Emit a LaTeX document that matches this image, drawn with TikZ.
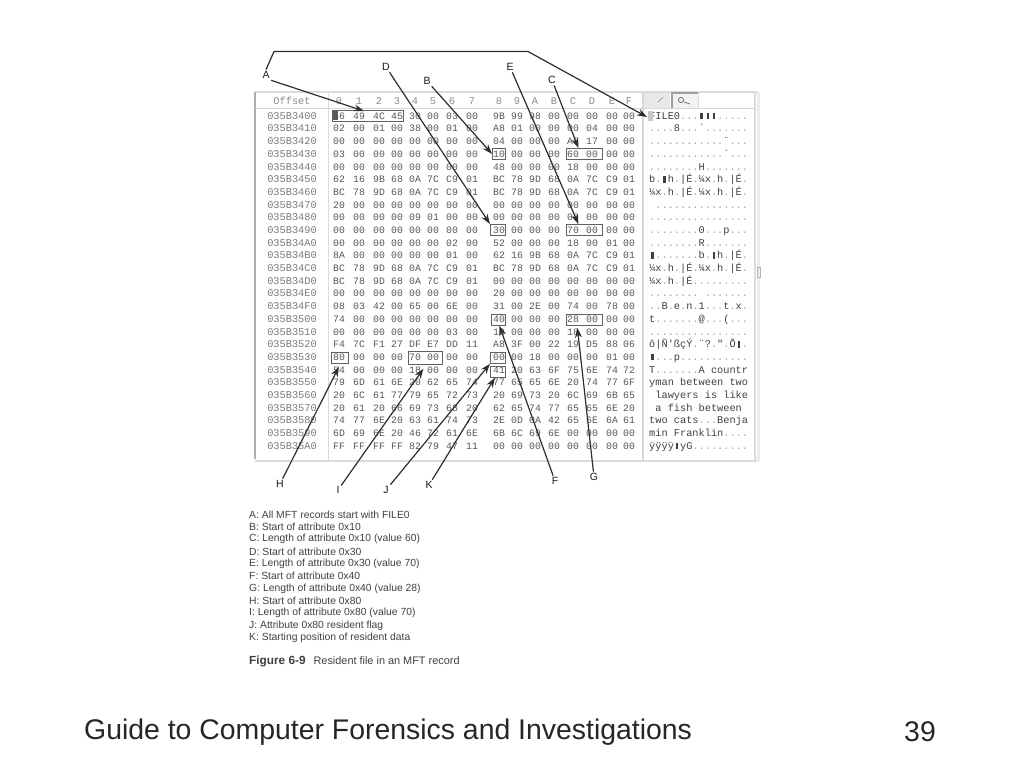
\documentclass[tikz,border=0pt]{standalone}
\usepackage{fontspec}
\setmainfont{Liberation Sans}
\newfontfamily\hexf{Liberation Mono}
\usetikzlibrary{arrows.meta}
\newcommand{\bk}{\makebox[0.6em]{\rule{2.6pt}{6.4pt}}}
\newcommand{\lightdot}{{\color{black!36}.}}
\ExplSyntaxOn
\NewDocumentCommand{\dotted}{m}{\tl_set:Nn\l_tmpa_tl{#1}\tl_replace_all:Nnn\l_tmpa_tl{.}{\lightdot}\l_tmpa_tl}
\ExplSyntaxOff
\def\colx{{339,359,379,397,415,433,452,472,499,517,535,554,573,592,612,629}}
\tikzset{
  hexcell/.style={font=\hexf\fontsize{9.8}{10}\selectfont,text=black!66,inner sep=0pt,anchor=center,text height=6.6pt,text depth=0pt},
  offcell/.style={font=\hexf\fontsize{10.3}{10}\selectfont,text=black!52,inner sep=0pt,anchor=center,text height=6.6pt,text depth=0pt},
  asciicell/.style={font=\hexf\fontsize{10.3}{10}\selectfont,text=black!75,inner sep=0pt,anchor=west,text height=6.6pt,text depth=0pt},
  headcell/.style={font=\hexf\fontsize{10.3}{10}\selectfont,text=black!45,inner sep=0pt,anchor=center,text height=6.6pt,text depth=0pt},
  mark box/.style={draw=black!62,line width=0.8pt,fill=none,inner sep=0pt,anchor=north west},
  callout/.style={font=\fontsize{10.5}{11}\selectfont,text=black!90,inner sep=1.5pt},
  pointer/.style={draw=black!82,line width=1.2pt,-{Stealth[length=10pt,width=7pt]}},
  legend/.style={font=\fontsize{10.35}{11}\selectfont,text=black!75,inner sep=0pt,anchor=west},
  footer/.style={font=\fontsize{28.4}{30}\selectfont,text=black!85,inner sep=0pt},
  frame line/.style={draw=black!14,line width=1.2pt}
}
\newcommand{\hexrow}[4]{%
  \pgfmathsetmacro{\ry}{116+12.69*#1}
  \node[offcell] (off#1) at (292,\ry) {#2};
  \foreach \c [count=\i from 0] in {#3}{%
    \pgfmathsetmacro{\cx}{\colx[\i]}
    \node[hexcell] (cell#1-\i) at (\cx,\ry) {\c};
  }
  \node[asciicell] (txt#1) at (649,\ry) {\dotted{#4}};
}
\newcommand{\markbox}[5]{% name, x0, y0, x1, y1
  \pgfmathsetmacro{\bw}{#4-#2}\pgfmathsetmacro{\bh}{#5-#3}
  \node[mark box,minimum width=\bw pt,minimum height=\bh pt] (#1) at (#2,#3) {};
}
\begin{document}
\begin{tikzpicture}[x=1pt,y=-1pt]
\useasboundingbox (0,0) rectangle (1024,768);
\fill[white] (0,0) rectangle (1024,768);

% window frame
\draw[frame line] (255,92) -- (758,92);
\draw[frame line] (255,461) -- (758,461);
\draw[draw=black!32,line width=1.3pt] (255,92) -- (255,459);
\draw[frame line] (755,92) -- (755,461);
\draw[draw=black!8,line width=3pt] (758,92) -- (758,461);
\draw[draw=black!14,line width=0.9pt] (328,92) -- (328,461);
\draw[draw=black!16,line width=1.4pt] (643,92) -- (643,461);
\draw[draw=black!16,line width=0.9pt] (255,108) -- (755,108);
% toolbar buttons
\fill[black!9] (644,93) rectangle (670,108);
\draw[black!40,line width=0.7pt] (658,102) -- (663,97);
\fill[black!5] (672,93) rectangle (698,108);
\draw[black!38,line width=1.2pt] (672,108) -- (672,93) -- (698,93);
\draw[black!14,line width=0.8pt] (698,93) -- (698,108);
\draw[black!50,line width=0.9pt] (681,100) circle (2.6pt);
\draw[black!50,line width=0.9pt] (684,102) -- (690,104);
\draw[black!30,line width=0.7pt] (757,267) rectangle (760,277);

% header
\node[headcell] (hoff) at (292,101) {Offset};
\foreach \h [count=\i from 0] in {0,1,2,3,4,5,6,7,8,9,A,B,C,D,E,F}{%
  \pgfmathsetmacro{\cx}{\colx[\i]}
  \node[headcell] (head\i) at (\cx,101) {\h};
}

% data
\hexrow{0}{035B3400}{46,49,4C,45,30,00,03,00,9B,99,98,00,00,00,00,00}{FILE0...\bk\bk\bk.....}
\hexrow{1}{035B3410}{02,00,01,00,38,00,01,00,A8,01,00,00,00,04,00,00}{....8...`.......}
\hexrow{2}{035B3420}{00,00,00,00,00,00,00,00,04,00,00,00,A8,17,00,00}{............¨...}
\hexrow{3}{035B3430}{03,00,00,00,00,00,00,00,10,00,00,00,60,00,00,00}{............`...}
\hexrow{4}{035B3440}{00,00,00,00,00,00,00,00,48,00,00,00,18,00,00,00}{........H.......}
\hexrow{5}{035B3450}{62,16,9B,68,0A,7C,C9,01,BC,78,9D,68,0A,7C,C9,01}{b.\bk h.|É.¼x.h.|É.}
\hexrow{6}{035B3460}{BC,78,9D,68,0A,7C,C9,01,BC,78,9D,68,0A,7C,C9,01}{¼x.h.|É.¼x.h.|É.}
\hexrow{7}{035B3470}{20,00,00,00,00,00,00,00,00,00,00,00,00,00,00,00}{~...............}
\hexrow{8}{035B3480}{00,00,00,00,09,01,00,00,00,00,00,00,00,00,00,00}{................}
\hexrow{9}{035B3490}{00,00,00,00,00,00,00,00,30,00,00,00,70,00,00,00}{........0...p...}
\hexrow{10}{035B34A0}{00,00,00,00,00,00,02,00,52,00,00,00,18,00,01,00}{........R.......}
\hexrow{11}{035B34B0}{8A,00,00,00,00,00,01,00,62,16,9B,68,0A,7C,C9,01}{\bk.......b.\bk h.|É.}
\hexrow{12}{035B34C0}{BC,78,9D,68,0A,7C,C9,01,BC,78,9D,68,0A,7C,C9,01}{¼x.h.|É.¼x.h.|É.}
\hexrow{13}{035B34D0}{BC,78,9D,68,0A,7C,C9,01,00,00,00,00,00,00,00,00}{¼x.h.|É.........}
\hexrow{14}{035B34E0}{00,00,00,00,00,00,00,00,20,00,00,00,00,00,00,00}{........~.......}
\hexrow{15}{035B34F0}{08,03,42,00,65,00,6E,00,31,00,2E,00,74,00,78,00}{..B.e.n.1...t.x.}
\hexrow{16}{035B3500}{74,00,00,00,00,00,00,00,40,00,00,00,28,00,00,00}{t.......@...(...}
\hexrow{17}{035B3510}{00,00,00,00,00,00,03,00,18,00,00,00,18,00,00,00}{................}
\hexrow{18}{035B3520}{F4,7C,F1,27,DF,E7,DD,11,A8,3F,00,22,19,D5,88,06}{ô|Ñ'ßçÝ.¨?.".Õ\bk.}
\hexrow{19}{035B3530}{80,00,00,00,70,00,00,00,00,00,18,00,00,00,01,00}{\bk...p...........}
\hexrow{20}{035B3540}{54,00,00,00,18,00,00,00,41,20,63,6F,75,6E,74,72}{T.......A~countr}
\hexrow{21}{035B3550}{79,6D,61,6E,20,62,65,74,77,65,65,6E,20,74,77,6F}{yman~between~two}
\hexrow{22}{035B3560}{20,6C,61,77,79,65,72,73,20,69,73,20,6C,69,6B,65}{~lawyers~is~like}
\hexrow{23}{035B3570}{20,61,20,66,69,73,68,20,62,65,74,77,65,65,6E,20}{~a~fish~between~}
\hexrow{24}{035B3580}{74,77,6E,20,63,61,74,73,2E,0D,0A,42,65,6E,6A,61}{two~cats...Benja}
\hexrow{25}{035B3590}{6D,69,6E,20,46,72,61,6E,6B,6C,69,6E,00,00,00,00}{min~Franklin....}
\hexrow{26}{035B35A0}{FF,FF,FF,FF,82,79,47,11,00,00,00,00,00,00,00,00}{ÿÿÿÿ\bk yG.........}

% highlighted first byte and FILE glyph
\fill[black!65] (332,111) rectangle (338,120);
\fill[black!22] (648,111) rectangle (653,121);

% marked boxes
\markbox{bxfile}{332}{110}{403}{121}
\markbox{bxa}{492}{148}{505}{159}
\markbox{bxb}{566}{148}{602}{159}
\markbox{bxc}{490}{224}{505}{235}
\markbox{bxd}{566}{224}{602}{235}
\markbox{bxe}{491}{314}{505}{325}
\markbox{bxf}{566}{314}{602}{325}
\markbox{bxg}{331}{352}{348}{363}
\markbox{bxh}{408}{351}{442}{364}
\markbox{bxi}{490}{352}{505}{363}
\markbox{bxj}{490}{366}{505}{377}

% callout letters
\node[callout] (A) at (266,75) {A};
\node[callout] (D) at (386,67) {D};
\node[callout] (B) at (427,81) {B};
\node[callout] (E) at (510,67) {E};
\node[callout] (C) at (552,80) {C};
\node[callout] (H) at (280,484) {H};
\node[callout] (I) at (338,490) {I};
\node[callout] (J) at (386,490) {J};
\node[callout] (K) at (429,485) {K};
\node[callout] (F) at (555,481) {F};
\node[callout] (G) at (594,477) {G};

% connectors
\coordinate (filetxt) at (647,117);
\draw[pointer] (A.north) -- (274,51.5) -- (528,51.5) -- (filetxt);
\draw[pointer] (A.south east) -- ([xshift=-4pt,yshift=-1pt]bxfile.north);
\draw[pointer] (D) -- (bxc.north west);
\draw[pointer] (B) -- (bxa.west);
\draw[pointer] (E) -- ([xshift=-6pt]bxd.north);
\draw[pointer] (C) -- ([xshift=-6pt]bxb.north);
\draw[pointer] (H) -- ([xshift=-1pt,yshift=-3pt]bxg.south);
\draw[pointer] (I) -- ([xshift=-2pt,yshift=-4pt]bxh.south);
\draw[pointer] (J) -- (bxi.south west);
\draw[pointer] (K) -- ([xshift=-3pt]bxj.south);
\draw[pointer] (F) -- ([xshift=1pt]bxe.south);
\draw[pointer] (G) -- ([xshift=-7pt,yshift=-2pt]bxf.south);

% legend
\node[legend] (l1) at (249,515) {A: All MFT records start with FILE0};
\node[legend] (l2) at (249,527) {B: Start of attribute 0x10};
\node[legend] (l3) at (249,539) {C: Length of attribute 0x10 (value 60)};
\node[legend] (l4) at (249,552) {D: Start of attribute 0x30};
\node[legend] (l5) at (249,564) {E: Length of attribute 0x30 (value 70)};
\node[legend] (l6) at (249,576) {F: Start of attribute 0x40};
\node[legend] (l7) at (249,589) {G: Length of attribute 0x40 (value 28)};
\node[legend] (l8) at (249,601) {H: Start of attribute 0x80};
\node[legend] (l9) at (249,613) {I: Length of attribute 0x80 (value 70)};
\node[legend] (l10) at (249,626) {J: Attribute 0x80 resident flag};
\node[legend] (l11) at (249,638) {K: Starting position of resident data};
\node[legend,font=\fontsize{10.9}{11}\selectfont] (cap) at (249,661) {{\fontsize{11.8}{12}\selectfont\bfseries Figure 6-9}\hspace{8pt}Resident file in an MFT record};

% slide footer
\node[footer,anchor=west] (title) at (84,732) {Guide to Computer Forensics and Investigations};
\node[footer,anchor=east] (page) at (936,732) {39};
\end{tikzpicture}
\end{document}
